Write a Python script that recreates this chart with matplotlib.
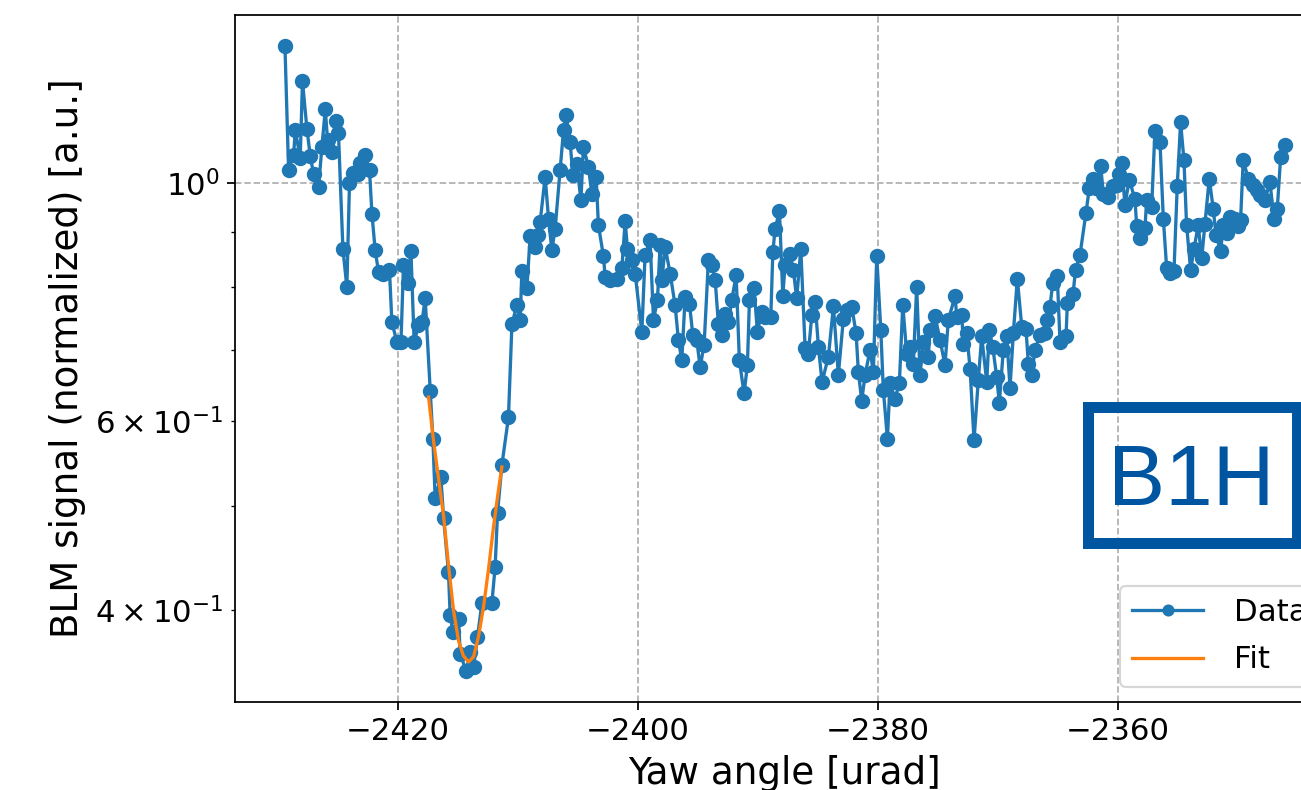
import matplotlib
matplotlib.use('Agg')
import matplotlib.pyplot as plt
from matplotlib.patches import Rectangle

# yaw scan, BLM signal normalized
yaw = [
    -2429.44, -2429.14, -2428.72, -2428.58, -2428.17, -2427.98, -2427.61, -2427.33, -2427.06, -2426.64,
    -2426.36, -2426.08, -2425.89, -2425.53, -2425.17, -2424.98, -2424.61, -2424.28, -2424.06, -2423.73,
    -2423.39, -2423.17, -2422.75, -2422.39, -2422.19, -2421.92, -2421.64, -2421.23, -2420.73, -2420.53,
    -2420.11, -2419.77, -2419.56, -2419.22, -2418.94, -2418.67, -2418.31, -2418.02, -2417.75, -2417.33,
    -2417.11, -2416.92, -2416.44, -2416.22, -2415.81, -2415.67, -2415.44, -2414.97, -2414.83, -2414.33,
    -2414.00, -2413.72, -2413.39, -2413.02, -2412.19, -2411.92, -2411.72, -2411.36, -2410.81, -2410.52,
    -2410.11, -2409.83, -2409.69, -2409.27, -2409.00, -2408.58, -2408.31, -2408.17, -2407.75, -2407.47,
    -2407.19, -2406.92, -2406.50, -2406.22, -2406.00, -2405.67, -2405.44, -2405.11, -2404.77, -2404.56,
    -2404.14, -2403.86, -2403.50, -2403.31, -2402.89, -2402.75, -2402.33, -2401.77, -2401.36, -2401.08,
    -2400.89, -2400.52, -2400.25, -2399.69, -2399.42, -2399.00, -2398.72, -2398.39, -2398.17, -2398.02,
    -2397.75, -2397.33, -2396.92, -2396.64, -2396.36, -2396.08, -2395.72, -2395.44, -2395.11, -2394.83,
    -2394.50, -2394.14, -2393.86, -2393.58, -2393.31, -2393.02, -2392.75, -2392.47, -2392.19, -2391.83,
    -2391.56, -2391.17, -2390.89, -2390.72, -2390.33, -2390.06, -2389.69, -2389.42, -2388.94, -2388.77,
    -2388.58, -2388.22, -2387.94, -2387.75, -2387.33, -2387.06, -2386.78, -2386.44, -2386.08, -2385.81,
    -2385.52, -2385.25, -2384.97, -2384.67, -2384.14, -2383.72, -2383.31, -2382.89, -2382.56, -2382.19,
    -2381.83, -2381.64, -2381.36, -2381.08, -2380.67, -2380.39, -2380.11, -2379.77, -2379.56, -2379.22,
    -2379.00, -2378.58, -2378.22, -2377.94, -2377.61, -2377.33, -2377.06, -2376.78, -2376.50, -2376.22,
    -2375.81, -2375.67, -2375.25, -2374.83, -2374.42, -2374.14, -2373.58, -2373.44, -2373.02, -2372.89,
    -2372.61, -2372.33, -2372.00, -2371.64, -2371.36, -2370.94, -2370.72, -2370.44, -2370.11, -2369.89,
    -2369.56, -2369.27, -2369.00, -2368.72, -2368.39, -2368.02, -2367.67, -2367.47, -2367.19, -2366.92,
    -2366.50, -2366.08, -2365.89, -2365.67, -2365.44, -2365.06, -2364.83, -2364.33, -2364.22, -2363.75,
    -2363.54, -2363.17, -2362.67, -2362.39, -2362.11, -2361.83, -2361.44, -2361.22, -2360.81, -2360.44,
    -2360.11, -2359.89, -2359.69, -2359.42, -2359.06, -2358.58, -2358.44, -2358.17, -2357.75, -2357.61,
    -2357.19, -2356.92, -2356.50, -2356.22, -2355.94, -2355.67, -2355.33, -2355.06, -2354.78, -2354.50,
    -2354.28, -2353.94, -2353.67, -2353.31, -2353.02, -2352.75, -2352.39, -2352.06, -2351.83, -2351.44,
    -2351.22, -2350.94, -2350.67, -2350.25, -2349.97, -2349.78, -2349.56, -2349.14, -2348.78, -2348.44,
    -2348.17, -2347.75, -2347.33, -2347.00, -2346.72, -2346.44, -2346.08,
]

blm = [
    1.342, 1.030, 1.062, 1.121, 1.055, 1.245, 1.124, 1.060, 1.021, 0.992,
    1.081, 1.172, 1.097, 1.069, 1.143, 1.114, 0.869, 0.800, 1.001, 1.022,
    1.021, 1.044, 1.062, 1.028, 0.937, 0.866, 0.827, 0.824, 0.831, 0.743,
    0.711, 0.711, 0.839, 0.808, 0.865, 0.711, 0.738, 0.743, 0.781, 0.640,
    0.578, 0.509, 0.532, 0.488, 0.434, 0.396, 0.3815, 0.3927, 0.364, 0.3513,
    0.3658, 0.3541, 0.3778, 0.4064, 0.4064, 0.439, 0.493, 0.546, 0.605, 0.739,
    0.770, 0.746, 0.829, 0.799, 0.893, 0.872, 0.895, 0.920, 1.014, 0.927,
    0.866, 0.907, 1.030, 1.121, 1.157, 1.093, 1.017, 1.043, 0.964, 1.081,
    1.036, 0.978, 1.014, 0.914, 0.855, 0.818, 0.812, 0.815, 0.833, 0.922,
    0.869, 0.848, 0.824, 0.727, 0.857, 0.885, 0.746, 0.778, 0.876, 0.812,
    0.872, 0.824, 0.770, 0.714, 0.684, 0.784, 0.772, 0.722, 0.714, 0.674,
    0.707, 0.848, 0.839, 0.813, 0.740, 0.722, 0.756, 0.743, 0.779, 0.821,
    0.684, 0.637, 0.677, 0.779, 0.798, 0.727, 0.759, 0.751, 0.751, 0.863,
    0.907, 0.942, 0.786, 0.839, 0.859, 0.830, 0.781, 0.869, 0.702, 0.694,
    0.754, 0.775, 0.704, 0.653, 0.689, 0.768, 0.663, 0.748, 0.762, 0.767,
    0.725, 0.667, 0.627, 0.663, 0.699, 0.667, 0.856, 0.730, 0.642, 0.578,
    0.651, 0.630, 0.652, 0.770, 0.694, 0.704, 0.679, 0.801, 0.663, 0.711,
    0.689, 0.730, 0.752, 0.714, 0.677, 0.746, 0.785, 0.751, 0.754, 0.709,
    0.725, 0.672, 0.576, 0.656, 0.720, 0.653, 0.730, 0.704, 0.660, 0.624,
    0.699, 0.720, 0.645, 0.725, 0.815, 0.735, 0.732, 0.679, 0.663, 0.700,
    0.722, 0.725, 0.746, 0.767, 0.807, 0.819, 0.711, 0.720, 0.773, 0.788,
    0.830, 0.857, 0.938, 0.989, 1.010, 0.991, 1.037, 0.978, 0.971, 0.994,
    0.996, 1.020, 1.044, 0.954, 1.008, 0.966, 0.912, 0.890, 0.909, 0.964,
    0.950, 1.119, 1.093, 0.927, 0.833, 0.825, 0.829, 0.994, 1.140, 1.051,
    0.914, 0.830, 0.868, 0.914, 0.851, 0.917, 1.010, 0.947, 0.895, 0.865,
    0.914, 0.898, 0.930, 0.927, 0.912, 0.924, 1.051, 1.010, 0.996, 0.985,
    0.975, 0.964, 1.003, 0.927, 0.947, 1.058, 1.085,
]

# fit curve around the minimum
fit_x = [-2417.47, -2417.06, -2416.64, -2416.22, -2415.81, -2415.39, -2414.97, -2414.56,
         -2414.14, -2413.72, -2413.31, -2412.89, -2412.47, -2412.06, -2411.64, -2411.36]
fit_y = [0.632, 0.576, 0.531, 0.490, 0.441, 0.400, 0.3746, 0.3627,
         0.358, 0.362, 0.3778, 0.4028, 0.437, 0.478, 0.518, 0.544]

fig = plt.figure(figsize=(1301 / 158, 790 / 158), dpi=158)
# axes run past the right edge of the figure (the original was cropped)
ax = fig.add_axes([0.1806, 0.1114, 0.8455, 0.8696])

ax.plot(yaw, blm, marker='o', label='Data')
ax.plot(fit_x, fit_y, label='Fit')
ax.set_yscale('log')

ax.grid(True, linestyle='--')
ax.tick_params(which='both', labelsize=14)
ax.set_xlabel('Yaw angle [urad]', fontsize=17)
ax.set_ylabel('BLM signal (normalized) [a.u.]', fontsize=17)
ax.legend(loc='lower right', fontsize=14, handlelength=2.3, labelspacing=0.6,
          handletextpad=1.0, borderaxespad=0.5, markerscale=0.75)

# beam label box
blue = '#0055a0'
fig.add_artist(Rectangle((0.8359, 0.3129), 0.1612, 0.1717, transform=fig.transFigure,
                         fill=False, edgecolor=blue, linewidth=5.0))
fig.text(0.9153, 0.3608, 'B1H', ha='center', va='baseline', fontsize=39,
         family='Liberation Sans', color=blue)

fig.savefig('out.png', dpi=158)
